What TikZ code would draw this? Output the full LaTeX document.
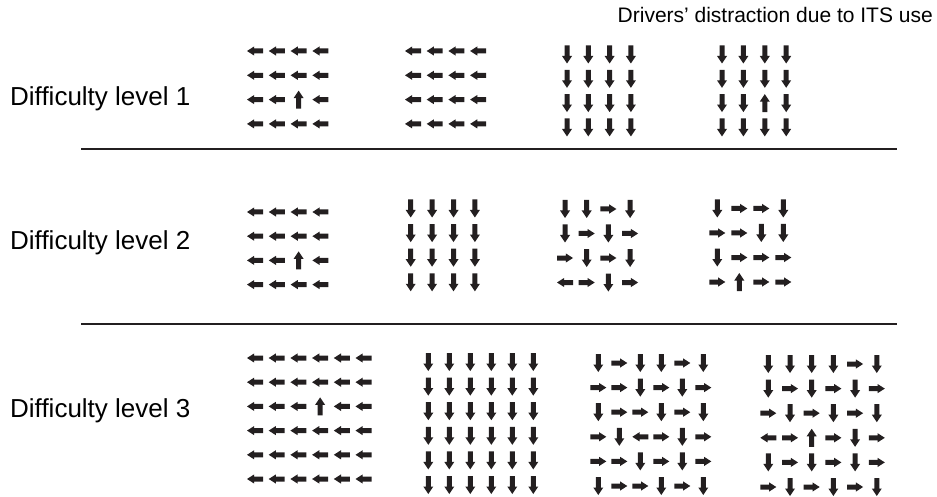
\documentclass[tikz,border=0pt]{standalone}
\usepackage{fontspec}
\setmainfont{Liberation Sans}
\definecolor{ink}{HTML}{231F20}
\tikzset{
  lbl/.style={anchor=base west, inner sep=0pt, font=\fontsize{26}{30}\selectfont},
  ttl/.style={anchor=base east, inner sep=0pt, font=\fontsize{21}{25}\selectfont},
  sep/.style={line width=2pt, ink},
  blk/.style={fill=ink}
}
\newcommand\blkarrowR[2]{\fill[blk,shift={(#1,#2)}] (-8,-2.5) -- (0.8,-2.5) -- (0.8,-4.6) -- (8,0) -- (0.8,4.6) -- (0.8,2.5) -- (-8,2.5) -- cycle;}
\newcommand\blkarrowL[2]{\fill[blk,shift={(#1,#2)}] (8,-2.5) -- (-0.8,-2.5) -- (-0.8,-4.6) -- (-8,0) -- (-0.8,4.6) -- (-0.8,2.5) -- (8,2.5) -- cycle;}
\newcommand\blkarrowD[2]{\fill[blk,shift={(#1,#2)}] (-2.5,-9) -- (-2.5,1.5) -- (-5,1.5) -- (0,9) -- (5,1.5) -- (2.5,1.5) -- (2.5,-9) -- cycle;}
\newcommand\blkarrowU[2]{\fill[blk,shift={(#1,#2)}] (-2.5,9) -- (-2.5,-1.5) -- (-5,-1.5) -- (0,-9) -- (5,-1.5) -- (2.5,-1.5) -- (2.5,9) -- cycle;}
% #1 x0, #2 y0, #3 dx, #4 dy, #5 rows
\newcommand\arrgrid[5]{%
  \foreach \rw [count=\j from 0] in {#5} {
    \foreach \d [count=\i from 0] in \rw {
      \pgfmathsetmacro\xx{#1+\i*#3}
      \pgfmathsetmacro\yy{#2+\j*#4}
      \csname blkarrow\d\endcsname{\xx}{\yy}
    }
  }%
}
\begin{document}
\begin{tikzpicture}[x=1pt,y=-1pt]
\useasboundingbox (0,0) rectangle (937,497);

\node[ttl] (title) at (933,23) {Drivers’ distraction due to ITS use};

\node[lbl] (lv1) at (10,106) {Difficulty level 1};
\node[lbl] (lv2) at (10,249) {Difficulty level 2};
\node[lbl] (lv3) at (10,417.5) {Difficulty level 3};

\coordinate (s1a) at (81,149);
\coordinate (s1b) at (897,149);
\coordinate (s2a) at (81,324);
\coordinate (s2b) at (897,324);
\draw[sep] (s1a) -- (s1b);
\draw[sep] (s2a) -- (s2b);

% Level 1
\arrgrid{255}{51}{21.8}{24.3}{{L,L,L,L},{L,L,L,L},{L,L,U,L},{L,L,L,L}}
\arrgrid{413}{51}{21.7}{24.3}{{L,L,L,L},{L,L,L,L},{L,L,L,L},{L,L,L,L}}
\arrgrid{567}{54.5}{21.3}{24.3}{{D,D,D,D},{D,D,D,D},{D,D,D,D},{D,D,D,D}}
\arrgrid{722}{54.5}{21.4}{24.3}{{D,D,D,D},{D,D,D,D},{D,D,U,D},{D,D,D,D}}

% Level 2
\arrgrid{255}{212}{21.8}{24.2}{{L,L,L,L},{L,L,L,L},{L,L,U,L},{L,L,L,L}}
\arrgrid{410.7}{208.5}{21.4}{24.6}{{D,D,D,D},{D,D,D,D},{D,D,D,D},{D,D,D,D}}
\arrgrid{565}{209}{21.7}{24.5}{{D,D,R,D},{D,R,D,R},{R,D,R,D},{L,R,D,R}}
\arrgrid{717.3}{208.5}{22}{24.5}{{D,R,R,D},{R,R,D,D},{D,R,R,R},{R,U,R,R}}

% Level 3
\arrgrid{255}{358}{21.7}{24.2}{{L,L,L,L,L,L},{L,L,L,L,L,L},{L,L,L,U,L,L},{L,L,L,L,L,L},{L,L,L,L,L,L},{L,L,L,L,L,L}}
\arrgrid{428.3}{362}{21}{24.6}{{D,D,D,D,D,D},{D,D,D,D,D,D},{D,D,D,D,D,D},{D,D,D,D,D,D},{D,D,D,D,D,D},{D,D,D,D,D,D}}
\arrgrid{598.3}{363}{21}{24.6}{{D,R,D,D,R,D},{R,R,D,R,D,R},{D,R,R,D,R,D},{R,D,L,R,D,R},{R,R,D,R,D,R},{D,R,R,D,R,D}}
\arrgrid{768.3}{364}{21.7}{24.6}{{D,D,D,D,R,D},{D,R,D,R,D,R},{R,D,R,D,R,D},{L,R,U,R,D,R},{D,R,D,R,D,R},{R,D,R,D,R,D}}
\end{tikzpicture}
\end{document}
